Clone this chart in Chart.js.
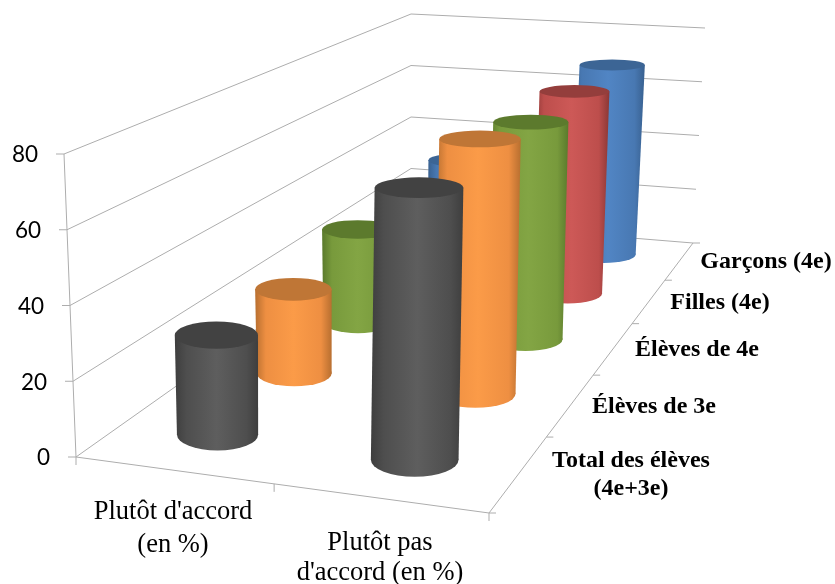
<!DOCTYPE html>
<html><head><meta charset="utf-8">
<style>html,body{margin:0;padding:0;background:#fff}canvas{display:block}</style>
<script src="https://cdn.jsdelivr.net/npm/chart.js@4"></script>
</head><body><canvas id="c" width="835" height="584"></canvas>
<script>
// ---- data ----
const categories = ["Plutôt d'accord (en %)", "Plutôt pas d'accord (en %)"];
const seriesNames = ["Total des élèves (4e+3e)", "Élèves de 3e", "Élèves de 4e", "Filles (4e)", "Garçons (4e)"];
const totalEleves = [27, 70.5];
const eleves3e = [25, 73];
const eleves4e = [30, 68];
const filles4e = [31, 68.5];
const garcons4e = [30.5, 69];
const yTickStep = 20;
const yMax = 80;

// ---- styles ----
const palettes = [
  {edge:'#3e3e3e', mid:'#4e4e4e', light:'#5e5e5e', top:'#424242'},
  {edge:'#b86f30', mid:'#ee8f42', light:'#fb9b48', top:'#bf7636'},
  {edge:'#5a7a2c', mid:'#789a3c', light:'#83a544', top:'#5c7a2d'},
  {edge:'#8a3735', mid:'#bd4e4c', light:'#cd5957', top:'#943e3c'},
  {edge:'#38608f', mid:'#4878b2', light:'#5185c4', top:'#3c6595'}
];
const floorQuad = {fl:[76,457], fr:[489,513], br:[693,243], bl:[411,220]};
const topQuad   = {fl:[64,154], fr:[494,178], br:[705,28],  bl:[411,14]};
const radiusU = 0.107, radiusW = 0.047;
const lineColor = '#adadad';
const catLabels = [
  {lines:["Plutôt d'accord","(en %)"], x:173, ys:[512,545]},
  {lines:["Plutôt pas","d'accord (en %)"], x:380, ys:[543,573]}
];
const serLabels = [
  {lines:["Total des élèves","(4e+3e)"], x:631, ys:[461,489]},
  {lines:["Élèves de 3e"], x:654, ys:[407]},
  {lines:["Élèves de 4e"], x:697, ys:[350]},
  {lines:["Filles (4e)"], x:720, ys:[303]},
  {lines:["Garçons (4e)"], x:766, ys:[262]}
];

function homography(q){
  const [x0,y0]=q.fl,[x1,y1]=q.fr,[x2,y2]=q.br,[x3,y3]=q.bl;
  const sx=x0-x1+x2-x3, sy=y0-y1+y2-y3;
  const dx1=x1-x2, dx2=x3-x2, dy1=y1-y2, dy2=y3-y2;
  const det=dx1*dy2-dx2*dy1;
  const g=(sx*dy2-dx2*sy)/det, h=(dx1*sy-sx*dy1)/det;
  const a=x1-x0+g*x1, b=x3-x0+h*x3, d=y1-y0+g*y1, e=y3-y0+h*y3;
  return (u,w)=>{const k=g*u+h*w+1; return [(a*u+b*w+x0)/k,(d*u+e*w+y0)/k];};
}
const floorH=homography(floorQuad), topH=homography(topQuad);
function project(u,w,v){
  const b=floorH(u,w), t=topH(u,w);
  return [b[0]+(t[0]-b[0])*v, b[1]+(t[1]-b[1])*v];
}
const norm=(s,v)=>(s.getPixelForValue(v)-s.left)/s.width;
const vNorm=(y,val)=>(y.bottom-y.getPixelForValue(val))/y.height;

function disc(u,w,v){
  const c=project(u,w,v);
  const rx=Math.abs(project(u+radiusU,w,v)[0]-project(u-radiusU,w,v)[0])/2;
  const ry=Math.abs(project(u,w+radiusW,v)[1]-project(u,w-radiusW,v)[1])/2;
  return {x:c[0],y:c[1],rx,ry};
}
function fillDisc(ctx,d){
  ctx.beginPath();ctx.ellipse(d.x,d.y,d.rx,d.ry,0,0,2*Math.PI);ctx.fill();
}
class CylinderElement extends Chart.BarElement{
  draw(ctx){
    const c=this.cyl, S=c.chart.scales;
    const u=norm(S.x,c.dataIndex), w=norm(S.z,c.datasetIndex);
    const v=vNorm(S.y,c.raw), p=palettes[c.datasetIndex];
    const b=disc(u,w,0), t=disc(u,w,v);
    const xa=Math.min(b.x-b.rx,t.x-t.rx), xb=Math.max(b.x+b.rx,t.x+t.rx);
    const g=ctx.createLinearGradient(xa,0,xb,0);
    g.addColorStop(0,p.edge);g.addColorStop(.14,p.mid);g.addColorStop(.5,p.light);g.addColorStop(.86,p.mid);g.addColorStop(1,p.edge);
    ctx.save();
    ctx.fillStyle=g;
    fillDisc(ctx,b);
    ctx.beginPath();
    ctx.moveTo(b.x-b.rx,b.y);ctx.lineTo(b.x+b.rx,b.y);ctx.lineTo(t.x+t.rx,t.y);ctx.lineTo(t.x-t.rx,t.y);
    ctx.closePath();ctx.fill();
    ctx.fillStyle=p.top;
    fillDisc(ctx,t);
    ctx.restore();
  }
}
CylinderElement.id='cylinder';
CylinderElement.defaults=Chart.BarElement.defaults;
CylinderElement.defaultRoutes=Chart.BarElement.defaultRoutes;
class CylinderController extends Chart.BarController{
  updateElements(rects,start,count,mode){
    super.updateElements(rects,start,count,mode);
    const data=this.getDataset().data;
    for(let i=start;i<start+count;i++){
      rects[i].cyl={chart:this.chart,datasetIndex:this.index,dataIndex:i,raw:data[i]};
    }
  }
}
CylinderController.id='cylinder';
CylinderController.defaults=Object.assign({},Chart.BarController.defaults,{dataElementType:'cylinder'});
CylinderController.overrides=Chart.BarController.overrides;
Chart.register(CylinderElement,CylinderController);

function seg(ctx,a,b){ctx.moveTo(a[0],a[1]);ctx.lineTo(b[0],b[1]);}
const frame={
  id:'frame',
  beforeDatasetsDraw(chart){
    const ctx=chart.ctx,S=chart.scales;
    ctx.save();ctx.strokeStyle=lineColor;ctx.lineWidth=1;ctx.beginPath();
    S.y.ticks.forEach(t=>{
      const v=vNorm(S.y,t.value);
      const a=project(0,0,v),b=project(0,1,v),c=project(1,1,v);
      seg(ctx,a,b);seg(ctx,b,c);
      seg(ctx,[a[0]-8,a[1]],a);
    });
    seg(ctx,project(0,0,0),project(0,0,1));
    seg(ctx,project(0,0,0),project(1,0,0));
    seg(ctx,project(1,0,0),project(1,1,0));
    [0,1,2].forEach(i=>{const q=project(i/2,0,0);seg(ctx,q,[q[0],q[1]+8]);});
    for(let i=0;i<=seriesNames.length;i++){const q=project(1,i/seriesNames.length,0);seg(ctx,q,[q[0]+7,q[1]]);}
    ctx.stroke();ctx.restore();
  },
  afterDatasetsDraw(chart){
    const ctx=chart.ctx,S=chart.scales;
    ctx.save();ctx.textBaseline='middle';ctx.fillStyle='#000';
    ctx.font='22.5px Lato';ctx.textAlign='right';
    S.y.ticks.forEach(t=>{
      const q=project(0,0,vNorm(S.y,t.value));
      ctx.fillText(String(t.value),q[0]-26,q[1]+1);
    });
    ctx.textAlign='center';
    ctx.font='26.5px "Liberation Serif"';
    catLabels.forEach(l=>l.lines.forEach((s,i)=>ctx.fillText(s,l.x,l.ys[i])));
    ctx.font='bold 24px "Liberation Serif"';
    serLabels.forEach(l=>l.lines.forEach((s,i)=>ctx.fillText(s,l.x,l.ys[i])));
    ctx.restore();
  }
};
new Chart(document.getElementById('c'),{
  type:'bar',
  data:{labels:categories,datasets:[totalEleves,eleves3e,eleves4e,filles4e,garcons4e].map((d,i)=>({type:'cylinder',label:seriesNames[i],data:d,clip:false}))},
  options:{
    responsive:false,animation:false,events:[],
    layout:{padding:{top:154,bottom:127,left:76,right:346}},
    plugins:{legend:{display:false},tooltip:{enabled:false}},
    scales:{
      x:{type:'category',labels:categories,offset:true,display:false},
      z:{type:'category',axis:'x',labels:seriesNames,offset:true,display:false},
      y:{type:'linear',min:0,max:yMax,ticks:{stepSize:yTickStep},display:false}
    }
  },
  plugins:[frame]
});
</script></body></html>
